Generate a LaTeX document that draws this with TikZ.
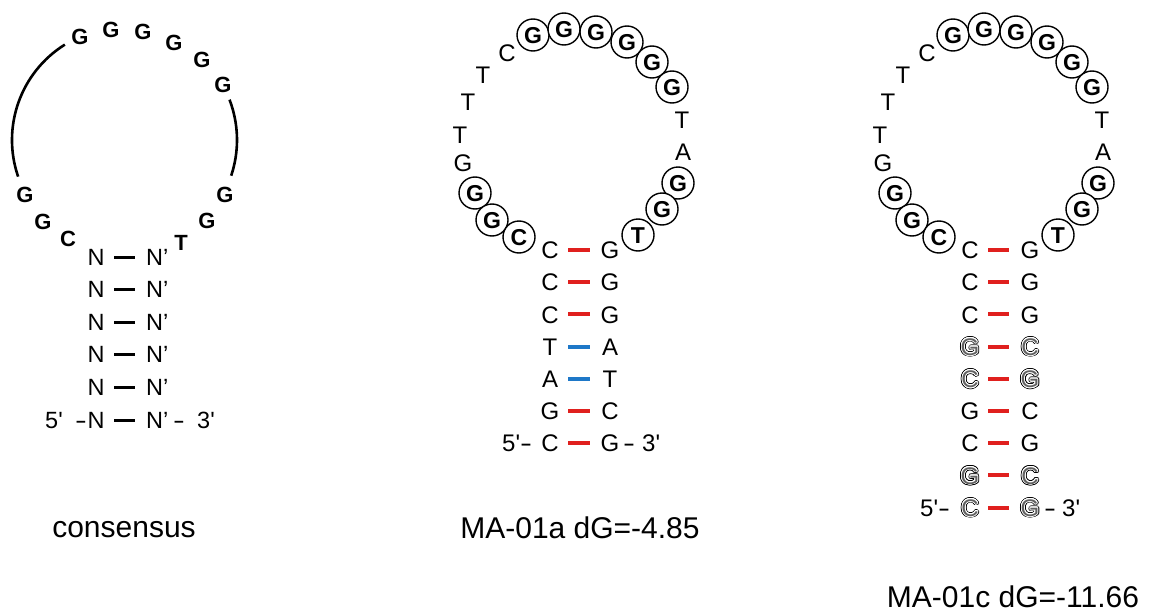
\documentclass[tikz,border=0pt]{standalone}
\usepackage{fontspec}
\setmainfont{Liberation Sans}
\usepackage{graphicx}
\usepackage{contour}
\definecolor{pairred}{RGB}{224,32,30}
\definecolor{pairblue}{RGB}{30,120,200}
\newcommand\hollowlet[3]{%
  \node[lt] (#1) at (#2) {\contourlength{1.7pt}\contour{black}{\textcolor{white}{#3}}};
  \node[lt] at (#1.center) {\contourlength{0.8pt}\contour{white}{\textcolor{black!62}{#3}}};
}
\newcommand\dsh{\scalebox{1.5}[1]{-}}
\begin{document}
\begin{tikzpicture}[x=1pt,y=-1pt,
  lt/.style={inner sep=0pt,text height=17.2pt,text depth=0pt,font=\fontsize{24}{24}\selectfont},
  nt/.style={inner sep=0pt,text height=16.8pt,text depth=0pt,font=\fontsize{23.5}{24}\selectfont},
  bl/.style={inner sep=0pt,text height=15.8pt,text depth=0pt,font=\fontsize{22}{22}\bfseries\selectfont},
  circ/.style={circle,draw,fill=white,line width=1.4pt,minimum size=32pt,inner sep=0pt,text height=16.5pt,text depth=0pt,font=\fontsize{23}{23}\bfseries\selectfont},
  captxt/.style={inner sep=0pt,font=\fontsize{30}{30}\selectfont},
  bar/.style={line width=4pt},
  kbar/.style={line width=3pt,black}]
\path[use as bounding box] (0,0) rectangle (1151,610);

% ---------------- consensus ----------------
\coordinate (cc) at (124.5,140);
\draw[line width=2.6pt] (cc) ++(-122:112.5) arc[start angle=-122,end angle=-199,radius=112.5];
\draw[line width=2.6pt] (cc) ++(-21:112.5) arc[start angle=-21,end angle=18.5,radius=112.5];
\node[bl] (c1) at (80,37) {G};
\node[bl] (c2) at (111,30) {G};
\node[bl] (c3) at (143,32) {G};
\node[bl] (c4) at (174,43) {G};
\node[bl] (c5) at (202,60) {G};
\node[bl] (c6) at (223,85) {G};
\node[bl] (c7) at (225,195) {G};
\node[bl] (c8) at (207,221) {G};
\node[bl] (c9) at (181,243) {T};
\node[bl] (c10) at (68,239) {C};
\node[bl] (c11) at (43,222) {G};
\node[bl] (c12) at (25,195) {G};
\foreach \y [count=\i] in {257,289,322,354,387,420}{
  \node[nt] (nl\i) at (96,\y) {N};
  \node[nt,anchor=west] (nr\i) at (146,\y) {N’};
  \draw[kbar] (114,\y) -- (135,\y);
}
\node[nt,anchor=west] (c5p) at (45,420) {5\textquotesingle};
\node[nt] (cd1) at (81,420) {\dsh};
\node[nt] (cd2) at (179,420) {\dsh};
\node[nt,anchor=west] (c3p) at (197,420) {3\textquotesingle};
\node[captxt] (lab1) at (124,530) {consensus};

% ---------------- loops of MA-01a and MA-01c ----------------
\foreach \ox/\p in {0/a,420/b}{
  \begin{scope}[xshift=\ox]
  \node[lt] (\p p1) at (682,120) {T};
  \node[lt] (\p p2) at (683,152) {A};
  \node[lt] (\p p3) at (507,53) {C};
  \node[lt] (\p p4) at (483,75) {T};
  \node[lt] (\p p5) at (468,102) {T};
  \node[lt] (\p p6) at (460,135) {T};
  \node[lt] (\p p7) at (463,163) {G};
  \node[circ] (\p g1) at (533,35) {G};
  \node[circ] (\p g2) at (564,29) {G};
  \node[circ] (\p g3) at (596,32) {G};
  \node[circ] (\p g4) at (627,42) {G};
  \node[circ] (\p g5) at (652,62) {G};
  \node[circ] (\p g6) at (672,87) {G};
  \node[circ] (\p g7) at (678,183) {G};
  \node[circ] (\p g8) at (662,209) {G};
  \node[circ] (\p g9) at (638,235) {T};
  \node[circ] (\p g10) at (475,193) {G};
  \node[circ] (\p g11) at (492,220) {G};
  \node[circ] (\p g12) at (519,237) {C};
  \end{scope}
}
\foreach \l/\r/\c [count=\i from 0] in {C/G/pairred,C/G/pairred,C/G/pairred,T/A/pairblue,A/T/pairblue,G/C/pairred,C/G/pairred}{
  \pgfmathsetmacro\yy{250+32.2*\i}
  \node[lt] (ml\i) at (550,\yy) {\l};
  \node[lt] (mr\i) at (610,\yy) {\r};
  \draw[bar,\c] (568,\yy) -- (590,\yy);
}
\node[lt,anchor=west] (m5p) at (502,443.2) {5\textquotesingle};
\node[lt] (md1) at (526,443.2) {\dsh};
\node[lt] (md2) at (629,443.2) {\dsh};
\node[lt,anchor=west] (m3p) at (642,443.2) {3\textquotesingle};
\node[captxt] (lab2) at (580,528) {MA-01a dG=-4.85};

% ---------------- MA-01c stem ----------------
\foreach \i/\l/\r in {0/C/G,1/C/G,2/C/G,5/G/C,6/C/G}{
  \pgfmathsetmacro\yy{250+32.2*\i}
  \node[lt] (rl\i) at (970,\yy) {\l};
  \node[lt] (rr\i) at (1030,\yy) {\r};
}
\hollowlet{rl3}{970,346.6}{G}
\hollowlet{rr3}{1030,346.6}{C}
\hollowlet{rl4}{970,378.8}{C}
\hollowlet{rr4}{1030,378.8}{G}
\hollowlet{rl7}{970,475.4}{G}
\hollowlet{rr7}{1030,475.4}{C}
\hollowlet{rl8}{970,507.6}{C}
\hollowlet{rr8}{1030,507.6}{G}
\foreach \i in {0,...,8}{
  \pgfmathsetmacro\yy{250+32.2*\i}
  \draw[bar,pairred] (988,\yy) -- (1009,\yy);
}
\node[lt,anchor=west] (r5p) at (920,507.6) {5\textquotesingle};
\node[lt] (rd1) at (944,507.6) {\dsh};
\node[lt] (rd2) at (1050,507.6) {\dsh};
\node[lt,anchor=west] (r3p) at (1062,507.6) {3\textquotesingle};
\node[captxt] (lab3) at (1013,597) {MA-01c dG=-11.66};
\end{tikzpicture}
\end{document}
